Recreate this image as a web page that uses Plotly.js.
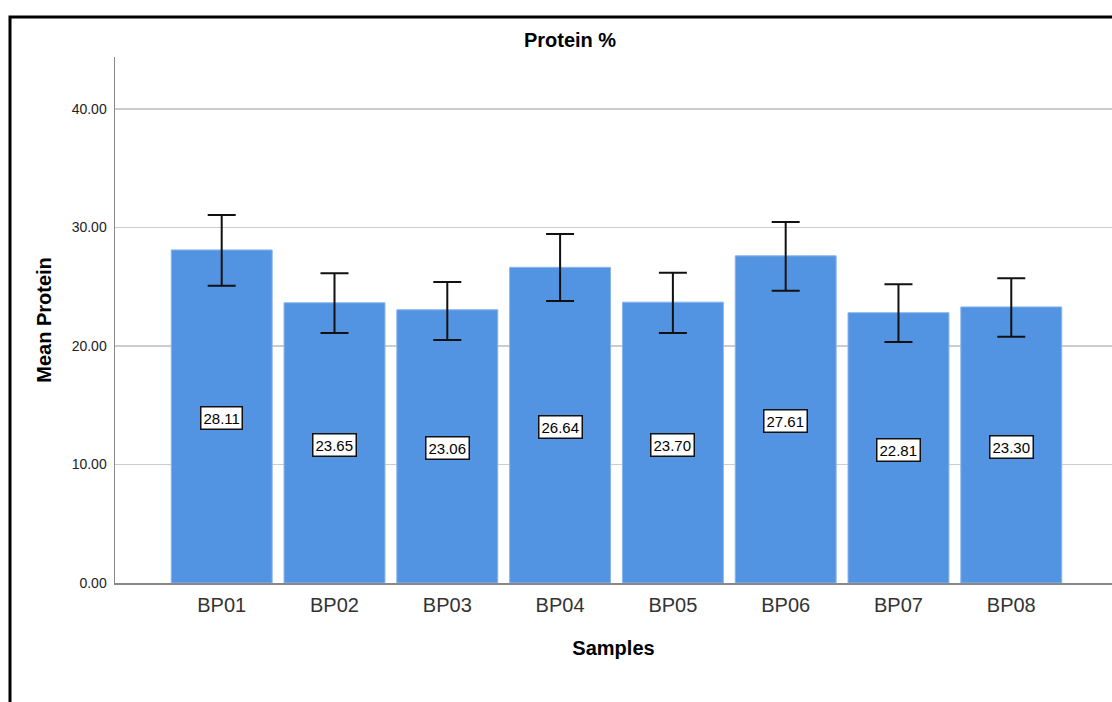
<!DOCTYPE html>
<html>
<head>
<meta charset="utf-8">
<script src="https://cdn.plot.ly/plotly-3.0.1.min.js"></script>
<style>
html,body{margin:0;padding:0;background:#fff;overflow:hidden;}
#chart{width:1112px;height:702px;}
</style>
</head>
<body>
<div id="chart"></div>
<script>
// Data
const samples = ["BP01","BP02","BP03","BP04","BP05","BP06","BP07","BP08"];
const meanProtein = [28.11, 23.65, 23.06, 26.64, 23.70, 27.61, 22.81, 23.30];
const errUpper = [31.05, 26.14, 25.40, 29.45, 26.19, 30.46, 25.21, 25.71];
const errLower = [25.09, 21.10, 20.51, 23.80, 21.10, 24.67, 20.34, 20.78];
const yTickVals = [0, 10, 20, 30, 40];
const yTickText = ["0.00", "10.00", "20.00", "30.00", "40.00"];

const FONT = "Arial, 'Liberation Sans', sans-serif";

const plusArr = meanProtein.map((m, i) => errUpper[i] - m);
const minusArr = meanProtein.map((m, i) => m - errLower[i]);

const trace = {
  type: "bar",
  x: samples,
  y: meanProtein,
  marker: {color: "#5294e2", line: {color: "#8ab6ec", width: 1}},
  error_y: {
    type: "data",
    symmetric: false,
    array: plusArr,
    arrayminus: minusArr,
    color: "#111111",
    thickness: 2,
    width: 14
  },
  hoverinfo: "x+y"
};

const annotations = meanProtein.map((m, i) => ({
  x: samples[i],
  y: m / 2,
  xref: "x",
  yref: "y",
  text: m.toFixed(2),
  showarrow: false,
  yshift: -2,
  font: {family: FONT, size: 15, color: "#000"},
  bgcolor: "#ffffff",
  bordercolor: "#111111",
  borderwidth: 1.5,
  borderpad: 2
}));

const layout = {
  width: 1112,
  height: 702,
  margin: {l: 115, r: 0, t: 57, b: 119},
  paper_bgcolor: "#ffffff",
  plot_bgcolor: "#ffffff",
  showlegend: false,
  bargap: 0.105,
  font: {family: FONT, color: "#222"},
  title: {
    text: "<b>Protein %</b>",
    font: {family: FONT, size: 20, color: "#000"},
    x: 570 / 1112,
    xanchor: "center",
    xref: "container",
    y: 1 - 40 / 702,
    yanchor: "middle",
    yref: "container"
  },
  xaxis: {
    type: "category",
    range: [-0.946, 7.893],
    showline: true,
    linecolor: "#888888",
    linewidth: 1.5,
    showgrid: false,
    ticks: "",
    zeroline: false,
    ticklabelstandoff: 3,
    tickfont: {family: FONT, size: 20, color: "#333"},
    title: {
      text: "<b>Samples</b>",
      font: {family: FONT, size: 20, color: "#000"},
      standoff: 26
    },
    fixedrange: true
  },
  yaxis: {
    range: [0, 44.39],
    tickvals: yTickVals,
    ticktext: yTickText,
    showline: true,
    linecolor: "#888888",
    linewidth: 1.5,
    showgrid: true,
    gridcolor: "#cccccc",
    gridwidth: 1.5,
    zeroline: false,
    ticks: "",
    ticklabelstandoff: 4,
    tickfont: {family: FONT, size: 14, color: "#222"},
    title: {
      text: "<b>Mean Protein</b>",
      font: {family: FONT, size: 20, color: "#000"},
      standoff: 14
    },
    fixedrange: true
  },
  annotations: annotations,
  shapes: [{
    type: "rect",
    xref: "paper",
    yref: "paper",
    x0: (10 - 115) / 997,
    x1: 1.05,
    y0: -0.4,
    y1: (583 - 17) / 526,
    line: {color: "#000000", width: 3},
    fillcolor: "rgba(0,0,0,0)",
    layer: "above"
  }]
};

Plotly.newPlot("chart", [trace], layout, {displayModeBar: false, staticPlot: true});
</script>
</body>
</html>
